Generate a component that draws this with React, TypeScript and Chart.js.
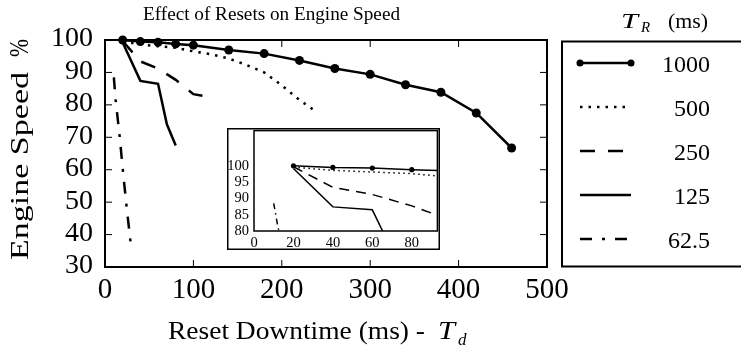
import React, { useEffect, useRef } from "react";
import { Chart, registerables } from "chart.js";

Chart.register(...registerables);

const SERIF = "'Liberation Serif', 'Times New Roman', serif";

// ---- data ----
const seriesLabels = ["1000", "500", "250", "125", "62.5"];

const downtime1000 = [20, 40, 60, 80, 100, 140, 180, 220, 260, 300, 340, 380, 420, 460];
const speed1000 = [100, 99.5, 99.3, 98.8, 98.4, 96.9, 95.8, 93.7, 91.2, 89.4, 86.2, 83.9, 77.5, 66.7];

const downtime500 = [20, 40, 60, 80, 100, 120, 140, 160, 180, 200, 220, 240];
const speed500 = [99.6, 98.6, 98.1, 97.6, 96.5, 95.6, 94.3, 92.3, 90, 86, 81.5, 77.7];

const downtime250 = [20, 40, 60, 80, 100, 120];
const speed250 = [99.7, 93.4, 91.2, 87.7, 83.3, 82.3];

const downtime125 = [20, 40, 60, 70, 80];
const speed125 = [99.2, 87.4, 86.5, 74, 67.5];

const downtime62 = [10, 12, 16.5, 20.5, 24.5, 29];
const speed62 = [88.5, 81.6, 70.5, 59, 48.4, 37.4];

const xTicks = [0, 100, 200, 300, 400, 500];
const yTicks = [30, 40, 50, 60, 70, 80, 90, 100];
const insetXTicks = [0, 20, 40, 60, 80];
const insetYTicks = [80, 85, 90, 95, 100];

const seriesX = [downtime1000, downtime500, downtime250, downtime125, downtime62];
const seriesY = [speed1000, speed500, speed250, speed125, speed62];

// ---- styles ----
const mainDash: number[][] = [[], [2.5, 6], [15, 13], [], [12, 10, 3, 10]];
const insetDash: number[][] = [[], [1.5, 3.5], [10, 7], [], [6, 4, 1.5, 4]];
const hasMarkers = [true, false, false, false, false];

function toPoints(xs: number[], ys: number[]) {
  return xs.map((x, i) => ({ x, y: ys[i] }));
}

function fitText(
  ctx: CanvasRenderingContext2D,
  text: string,
  x: number,
  y: number,
  font: string,
  width?: number
) {
  ctx.save();
  ctx.font = font;
  ctx.textAlign = "left";
  ctx.textBaseline = "alphabetic";
  const w = ctx.measureText(text).width;
  ctx.translate(x, y);
  if (width) ctx.scale(width / w, 1);
  ctx.fillText(text, 0, 0);
  ctx.restore();
}

function drawFrameAndTicks(chart: any, lw: number, tickLen: number) {
  const ctx: CanvasRenderingContext2D = chart.ctx;
  const { left, right, top, bottom } = chart.chartArea;
  ctx.save();
  ctx.strokeStyle = "#000";
  ctx.setLineDash([]);
  if (tickLen > 0) {
    ctx.lineWidth = 1;
    ctx.beginPath();
    for (const t of chart.scales.x.ticks) {
      const px = chart.scales.x.getPixelForValue(t.value);
      ctx.moveTo(px, bottom);
      ctx.lineTo(px, bottom - tickLen);
      ctx.moveTo(px, top);
      ctx.lineTo(px, top + tickLen);
    }
    for (const t of chart.scales.y.ticks) {
      const py = chart.scales.y.getPixelForValue(t.value);
      ctx.moveTo(left, py);
      ctx.lineTo(left + tickLen, py);
      ctx.moveTo(right, py);
      ctx.lineTo(right - tickLen, py);
    }
    ctx.stroke();
  }
  ctx.lineWidth = lw;
  ctx.strokeRect(left, top, right - left, bottom - top);
  ctx.restore();
}

const mainPlugin = {
  id: "mainDecor",
  afterDatasetsDraw(chart: any) {
    drawFrameAndTicks(chart, 2, 7);
  },
  afterDraw(chart: any) {
    const ctx: CanvasRenderingContext2D = chart.ctx;
    ctx.save();
    ctx.fillStyle = "#000";
    // title
    fitText(ctx, "Effect of Resets on Engine Speed", 143, 19.5, `19.5px ${SERIF}`, 257);
    // x axis title
    fitText(ctx, "Reset Downtime (ms) -", 168, 338.5, `25.5px ${SERIF}`, 257);
    fitText(ctx, "T", 438, 338.5, `italic 25.5px ${SERIF}`, 17);
    fitText(ctx, "d", 458, 344.5, `italic 17px ${SERIF}`);
    // y axis title (rotated)
    ctx.save();
    ctx.translate(28, 260);
    ctx.rotate(-Math.PI / 2);
    fitText(ctx, "Engine Speed", 0, 0, `25px ${SERIF}`, 188);
    fitText(ctx, "%", 203, 0, `28px ${SERIF}`, 18);
    ctx.restore();

    // legend
    ctx.lineWidth = 2;
    ctx.strokeStyle = "#000";
    ctx.setLineDash([]);
    ctx.strokeRect(562, 41.5, 220, 225);
    // legend title
    fitText(ctx, "T", 621, 28, `italic 22px ${SERIF}`, 17);
    fitText(ctx, "R", 641, 31.5, `italic 15px ${SERIF}`);
    fitText(ctx, "(ms)", 668, 28, `22px ${SERIF}`, 40);

    seriesLabels.forEach((label, i) => {
      const y = 63 + 44 * i;
      ctx.save();
      ctx.lineWidth = 2.5;
      ctx.setLineDash(mainDash[i]);
      ctx.beginPath();
      ctx.moveTo(580, y);
      ctx.lineTo(631, y);
      ctx.stroke();
      ctx.setLineDash([]);
      if (hasMarkers[i]) {
        for (const mx of [580, 631]) {
          ctx.beginPath();
          ctx.arc(mx, y, 3.5, 0, Math.PI * 2);
          ctx.fill();
        }
      }
      ctx.font = `24px ${SERIF}`;
      ctx.textAlign = "right";
      ctx.textBaseline = "alphabetic";
      ctx.fillText(label, 710, y + 8.5);
      ctx.restore();
    });
    ctx.restore();
  },
};

const insetPlugin = {
  id: "insetDecor",
  beforeDraw(chart: any) {
    const ctx: CanvasRenderingContext2D = chart.ctx;
    ctx.save();
    ctx.fillStyle = "#fff";
    ctx.fillRect(0, 0, chart.width, chart.height);
    ctx.restore();
  },
  afterDraw(chart: any) {
    drawFrameAndTicks(chart, 1.5, 0);
    const ctx: CanvasRenderingContext2D = chart.ctx;
    ctx.save();
    ctx.lineWidth = 1.5;
    ctx.strokeStyle = "#000";
    ctx.strokeRect(0.75, 0.75, chart.width - 1.5, chart.height - 1.5);
    ctx.restore();
  },
};

function tickSetter(values: number[]) {
  return (scale: any) => {
    scale.ticks = values.map((v) => ({ value: v }));
  };
}

export default function App() {
  const mainRef = useRef<HTMLCanvasElement>(null);
  const insetRef = useRef<HTMLCanvasElement>(null);

  useEffect(() => {
    const mainDatasets = seriesLabels.map((label, i) => ({
      label,
      data: toPoints(seriesX[i], seriesY[i]),
      borderColor: "#000",
      backgroundColor: "#000",
      borderWidth: 2.5,
      borderDash: mainDash[i],
      borderCapStyle: "butt",
      borderJoinStyle: "miter",
      pointRadius: hasMarkers[i] ? 4.5 : 0,
      pointHoverRadius: 0,
      pointBorderWidth: 0,
      tension: 0,
      fill: false,
      clip: false,
    }));

    const main = new Chart(mainRef.current!, {
      type: "line",
      data: { datasets: mainDatasets as any },
      options: {
        responsive: false,
        animation: false,
        devicePixelRatio: 1,
        events: [],
        layout: { padding: { top: 40, right: 194, left: 0, bottom: 0 } },
        plugins: {
          legend: { display: false },
          title: { display: false },
          tooltip: { enabled: false },
        },
        scales: {
          x: {
            type: "linear",
            min: 0,
            max: 500,
            afterBuildTicks: tickSetter(xTicks),
            afterFit: (s: any) => {
              s.height = 80;
              s.paddingLeft = 0;
              s.paddingRight = 0;
            },
            grid: { display: false, drawTicks: false },
            border: { display: false },
            ticks: {
              color: "#000",
              font: { family: SERIF, size: 29 },
              padding: 6,
              maxRotation: 0,
              autoSkip: false,
            },
          },
          y: {
            type: "linear",
            min: 30,
            max: 100,
            afterBuildTicks: tickSetter(yTicks),
            afterFit: (s: any) => {
              s.width = 105;
              s.paddingTop = 0;
              s.paddingBottom = 0;
            },
            grid: { display: false, drawTicks: false },
            border: { display: false },
            ticks: {
              color: "#000",
              font: { family: SERIF, size: 28 },
              padding: 12,
              labelOffset: -1,
              autoSkip: false,
            },
          },
        },
      } as any,
      plugins: [mainPlugin],
    });

    const insetDatasets = seriesLabels.map((label, i) => ({
      label,
      data: toPoints(seriesX[i], seriesY[i]),
      borderColor: "#000",
      backgroundColor: "#000",
      borderWidth: 1.5,
      borderDash: insetDash[i],
      borderCapStyle: "butt",
      pointRadius: hasMarkers[i] ? 2.6 : 0,
      pointHoverRadius: 0,
      pointBorderWidth: 0,
      tension: 0,
      fill: false,
    }));

    const inset = new Chart(insetRef.current!, {
      type: "line",
      data: { datasets: insetDatasets as any },
      options: {
        responsive: false,
        animation: false,
        devicePixelRatio: 1,
        events: [],
        layout: { padding: { top: 0, right: 1.5, left: 0, bottom: 0 } },
        plugins: {
          legend: { display: false },
          title: { display: false },
          tooltip: { enabled: false },
        },
        scales: {
          x: {
            type: "linear",
            min: 0,
            max: 93,
            afterBuildTicks: tickSetter(insetXTicks),
            afterFit: (s: any) => {
              s.height = 19;
              s.paddingLeft = 0;
              s.paddingRight = 0;
            },
            grid: { display: false, drawTicks: false },
            border: { display: false },
            ticks: {
              color: "#000",
              font: { family: SERIF, size: 14.5 },
              padding: 3,
              maxRotation: 0,
              autoSkip: false,
            },
          },
          y: {
            type: "linear",
            min: 80,
            max: 110.8,
            afterBuildTicks: tickSetter(insetYTicks),
            afterFit: (s: any) => {
              s.width = 27;
              s.paddingTop = 0;
              s.paddingBottom = 0;
            },
            grid: { display: false, drawTicks: false },
            border: { display: false },
            ticks: {
              color: "#000",
              font: { family: SERIF, size: 14.5 },
              padding: 5,
              autoSkip: false,
            },
          },
        },
      } as any,
      plugins: [insetPlugin],
    });

    return () => {
      main.destroy();
      inset.destroy();
    };
  }, []);

  return (
    <div
      style={{
        position: "fixed",
        left: 0,
        top: 0,
        width: 741,
        height: 347,
        background: "#fff",
        overflow: "hidden",
      }}
    >
      <canvas ref={mainRef} width={741} height={347} style={{ display: "block" }} />
      <canvas
        ref={insetRef}
        width={213}
        height={122}
        style={{ position: "absolute", left: 227, top: 128 }}
      />
    </div>
  );
}
